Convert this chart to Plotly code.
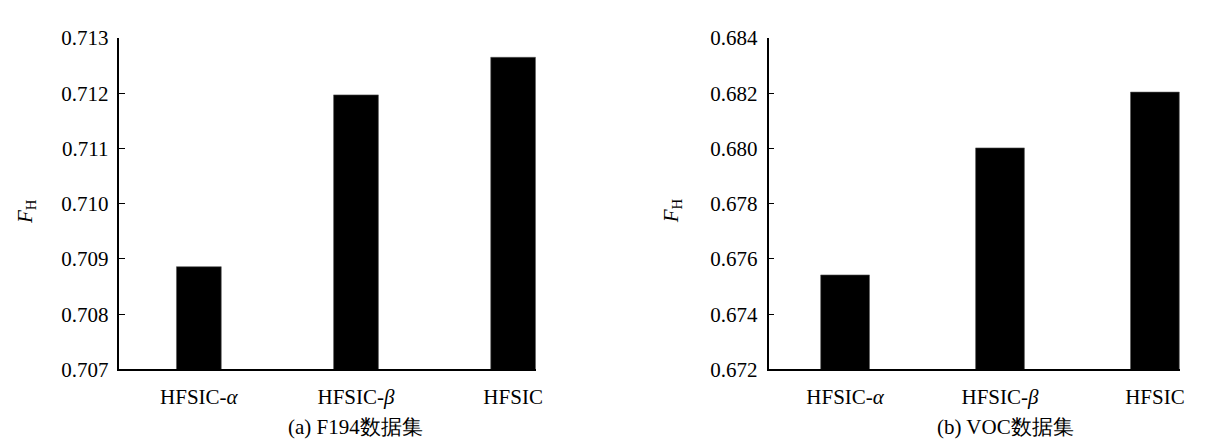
import plotly.graph_objects as go

categories = ["HFSIC-<i>α</i>", "HFSIC-<i>β</i>", "HFSIC"]
f194_values = [0.70886, 0.71197, 0.71265]
voc_values = [0.67542, 0.68002, 0.68204]
f194_ticks = [0.707, 0.708, 0.709, 0.710, 0.711, 0.712, 0.713]
voc_ticks = [0.672, 0.674, 0.676, 0.678, 0.680, 0.682, 0.684]
captions = ["(a) F194数据集", "(b) VOC数据集"]
y_title = "<i>F</i><sub>H</sub>"

FONT = "Liberation Serif, Times New Roman, serif"
W, H = 1205, 446

fig = go.Figure()
fig.add_trace(go.Bar(x=categories, y=f194_values, width=0.285,
                     marker=dict(color="black", line=dict(color="#555", width=0.6)),
                     xaxis="x", yaxis="y"))
fig.add_trace(go.Bar(x=categories, y=voc_values, width=0.315,
                     marker=dict(color="black", line=dict(color="#555", width=0.6)),
                     xaxis="x2", yaxis="y2"))

ydom = [1 - 369.3 / H, 1 - 19 / H]
common_x = dict(showline=True, linecolor="black", linewidth=1.5, ticks="",
                showgrid=False, zeroline=False, type="category",
                tickfont=dict(family=FONT, size=21, color="black"),
                ticklabelstandoff=8)
common_y = dict(showline=True, linecolor="black", linewidth=1.5, ticks="inside",
                ticklen=6, tickwidth=1.2, tickcolor="black", showgrid=False,
                zeroline=False, tickformat=".3f",
                tickfont=dict(family=FONT, size=21, color="black"),
                ticklabelstandoff=5)

fig.update_layout(
    width=W, height=H, margin=dict(l=0, r=0, t=0, b=0),
    plot_bgcolor="white", paper_bgcolor="white", showlegend=False,
    xaxis=dict(domain=[112 / W, 531 / W], range=[-0.506, 2.145], anchor="y", **common_x),
    yaxis=dict(domain=ydom, range=[0.707, 0.713], tickvals=f194_ticks, anchor="x", **common_y),
    xaxis2=dict(domain=[765 / W, 1179 / W], range=[-0.494, 2.163], anchor="y2", **common_x),
    yaxis2=dict(domain=ydom, range=[0.672, 0.684], tickvals=voc_ticks, anchor="x2", **common_y),
)

for cx, text in zip([350, 1003], captions):
    fig.add_annotation(x=cx / W, y=1 - 430 / H, xref="paper", yref="paper",
                       text=text, showarrow=False, xanchor="center", yanchor="middle",
                       font=dict(family=FONT, size=21, color="black"))
for cx in [18, 668]:
    fig.add_annotation(x=cx / W, y=1 - 202 / H, xref="paper", yref="paper",
                       text=y_title, showarrow=False, textangle=-90,
                       xanchor="center", yanchor="middle",
                       font=dict(family=FONT, size=21, color="black"))

fig.write_html("out.html")
